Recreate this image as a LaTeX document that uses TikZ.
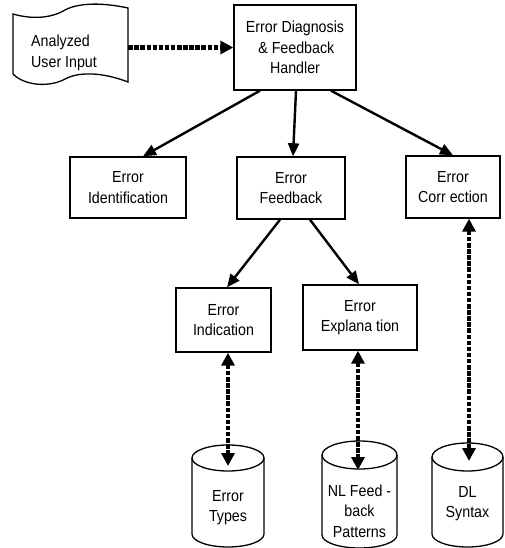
\documentclass[tikz,border=0pt]{standalone}
\usepackage{fontspec}
\setmainfont[FakeStretch=0.89]{Liberation Sans}
\usetikzlibrary{arrows.meta,calc}
\begin{document}
\begin{tikzpicture}[x=1pt,y=-1pt,
  every node/.style={font=\fontsize{16}{20.5}\selectfont, align=center, inner sep=0pt},
  procbox/.style={draw, line width=1.4pt, minimum width=#1},
  solidarrow/.style={line width=2.4pt, -{Triangle[length=13pt,width=11pt]}},
  dotarrow/.style={line width=4.5pt, dash pattern=on 4.5pt off 1.6pt, -{Triangle[length=13pt,width=13pt]}},
  dotboth/.style={line width=4.5pt, dash pattern=on 4.5pt off 1.6pt, {Triangle[length=13pt,width=13pt]}-{Triangle[length=13pt,width=13pt]}},
  shapeline/.style={line width=1.3pt}
]
\useasboundingbox (0,0) rectangle (504,548);

% Analyzed User Input (tape shape)
\draw[shapeline] (13,14) .. controls (30,19) and (50,19) .. (65,10)
  .. controls (80,2) and (105,3) .. (128,8) -- (128,82)
  .. controls (110,75) and (85,70) .. (67,78)
  .. controls (50,88) and (25,86) .. (13,74) -- cycle;
\node[minimum width=115pt, minimum height=60pt] (input) at (70.5,47.5) {};
\node[align=left, anchor=west] (inputtext) at (31,53) {Analyzed\\User Input};

% Process boxes
\node[procbox=122pt, minimum height=85pt] (diag) at (295,47.5) {Error Diagnosis\\\,\& Feedback\\Handler};
\node[procbox=116pt, minimum height=61pt] (ident) at (128,187.5) {Error\\Identification};
\node[procbox=108pt, minimum height=62pt] (feedback) at (291,188) {Error\\Feedback};
\node[procbox=94pt, minimum height=62pt] (correction) at (453,187) {Error\\Corr ection};
\node[procbox=95pt, minimum height=64pt] (indication) at (223.5,320) {Error\\Indication};
\node[procbox=114pt, minimum height=65pt] (explanation) at (360,317.5) {Error\\Explana tion};

% Cylinders
\draw[shapeline] (192,458) -- (192,534) arc[start angle=180, end angle=0, x radius=36, y radius=13] -- (264,458);
\draw[shapeline] (228,458) ellipse[x radius=36, y radius=13];
\node (types) at (228,507.5) {Error\\Types};
\coordinate (typesTop) at (228,466);

\draw[shapeline] (322,455) -- (322,535) arc[start angle=180, end angle=0, x radius=37.5, y radius=13] -- (397,455);
\draw[shapeline] (359.5,455) ellipse[x radius=37.5, y radius=14];
\node (nlfb) at (359.5,511) {NL Feed -\\back\\Patterns};
\coordinate (nlTop) at (358,470);

\draw[shapeline] (432,457) -- (432,534) arc[start angle=180, end angle=0, x radius=35.5, y radius=13] -- (503,457);
\draw[shapeline] (467.5,457) ellipse[x radius=35.5, y radius=14];
\node (dl) at (467.5,503.5) {DL\\Syntax};
\coordinate (dlTop) at (469,461);

% Solid arrows
\draw[solidarrow] ([xshift=-35pt]diag.south) -- ([xshift=15pt]ident.north);
\draw[solidarrow] ([xshift=1pt]diag.south) -- ([xshift=2pt]feedback.north);
\draw[solidarrow] ([xshift=36pt]diag.south) -- (correction.north);
\draw[solidarrow] ([xshift=-11pt]feedback.south) -- ([xshift=3.5pt]indication.north);
\draw[solidarrow] ([xshift=19pt]feedback.south) -- ([xshift=-1pt]explanation.north);

% Dotted arrows
\draw[dotarrow] (input.east) -- (diag.west);
\draw[dotboth] ([xshift=4.5pt]indication.south) -- (typesTop);
\draw[dotboth] ([xshift=-2pt]explanation.south) -- (nlTop);
\draw[dotboth] ([xshift=16pt]correction.south) -- (dlTop);
\end{tikzpicture}
\end{document}
